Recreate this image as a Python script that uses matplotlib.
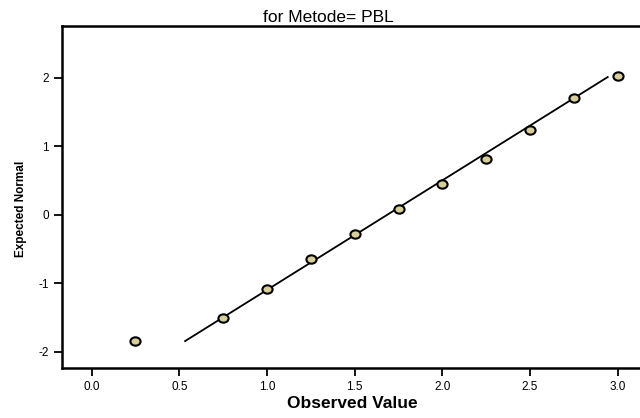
import matplotlib
matplotlib.use("Agg")
import matplotlib.pyplot as plt
from matplotlib.markers import MarkerStyle
from matplotlib.transforms import Affine2D

# Data
observed = [0.25, 0.75, 1.0, 1.25, 1.5, 1.75, 2.0, 2.25, 2.5, 2.75, 3.0]
expected = [-1.85, -1.51, -1.08, -0.64, -0.28, 0.09, 0.45, 0.82, 1.23, 1.71, 2.02]
line_x = [0.533, 2.943]
line_y = [-1.845, 2.01]
xticks = [0.0, 0.5, 1.0, 1.5, 2.0, 2.5, 3.0]
xticklabels = ["0.0", "0.5", "1.0", "1.5", "2.0", "2.5", "3.0"]
yticks = [-2, -1, 0, 1, 2]
yticklabels = ["-2", "-1", "0", "1", "2"]

plt.rcParams['font.family'] = ['Liberation Sans', 'DejaVu Sans']

fig = plt.figure(figsize=(6.4, 4.18), dpi=100)
ax = fig.add_axes([62/640, 1 - 368/418, 578/640, (368 - 26)/418])

ax.plot(line_x, line_y, color='black', lw=1.3, zorder=2)
marker = MarkerStyle('o', transform=Affine2D().scale(1.22, 1.0))
ax.plot(observed, expected, ls='none', marker=marker, ms=6.0,
        mfc='#d8cf98', mec='black', mew=1.5, zorder=3)

ax.set_xlim(-0.169, 3.127)
ax.set_ylim(-2.238, 2.755)
ax.set_xticks(xticks)
ax.set_xticklabels(xticklabels)
ax.set_yticks(yticks)
ax.set_yticklabels(yticklabels)
ax.tick_params(direction='out', length=6, width=1.3, labelsize=8.5,
               pad=3.5, colors='black')
ax.spines['right'].set_visible(False)
for s in ['left', 'bottom', 'top']:
    ax.spines[s].set_linewidth(1.8)

fig.text(328.5/640, 1 - 17/418, "for Metode= PBL", ha='center', va='center',
         fontsize=12.5)
fig.text(352.5/640, 1 - 403/418, "Observed Value", ha='center', va='center',
         fontsize=12.5, fontweight='bold')
fig.text(21/640, 1 - 209/418, "Expected Normal", ha='center', va='center',
         rotation=90, fontsize=8.5, fontweight='bold')

fig.savefig("out.png", dpi=100)
